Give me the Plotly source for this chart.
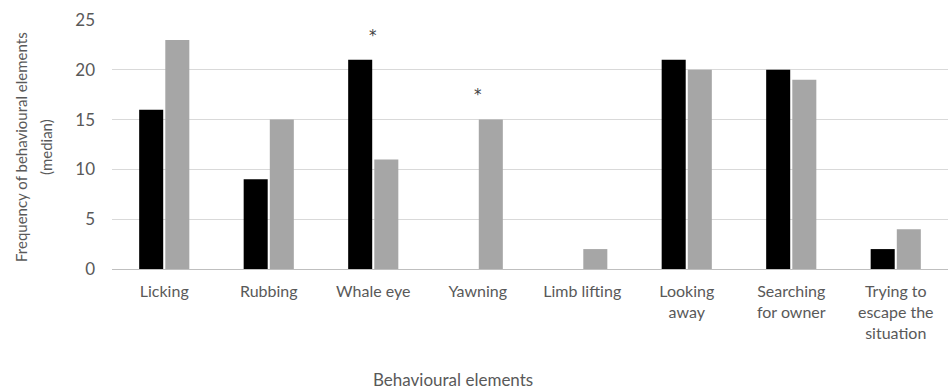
import plotly.graph_objects as go

categories = ["Licking", "Rubbing", "Whale eye", "Yawning", "Limb lifting",
              "Looking<br>away", "Searching<br>for owner", "Trying to<br>escape the<br>situation"]
series_black = [16, 9, 21, 0, 0, 21, 20, 2]
series_gray = [23, 15, 11, 15, 2, 20, 19, 4]
asterisk_cats = ["Whale eye", "Yawning"]
asterisk_vals = [23.4, 17.5]

FONT = "Lato"
TXT = "#595959"

fig = go.Figure()
fig.add_trace(go.Bar(x=categories, y=series_black, marker=dict(color="#000000", line=dict(width=0)),
                     showlegend=False, hoverinfo="skip"))
fig.add_trace(go.Bar(x=categories, y=series_gray, marker=dict(color="#a6a6a6", line=dict(width=0)),
                     showlegend=False, hoverinfo="skip"))

for c, v in zip(asterisk_cats, asterisk_vals):
    fig.add_annotation(x=c, y=v, xref="x", yref="y", text="*", showarrow=False,
                       font=dict(family="DejaVu Sans", size=15, color="#404040"))

# y-axis title (two lines)
fig.add_annotation(text="Frequency of behavioural elements", xref="paper", yref="paper",
                   x=(21 - 112) / 836, y=(269 - 147) / 249, xanchor="center", yanchor="middle",
                   textangle=-90, showarrow=False, font=dict(family=FONT, size=15, color=TXT))
fig.add_annotation(text="(median)", xref="paper", yref="paper",
                   x=(46 - 112) / 836, y=(269 - 147) / 249, xanchor="center", yanchor="middle",
                   textangle=-90, showarrow=False, font=dict(family=FONT, size=15, color=TXT))
# x-axis title
fig.add_annotation(text="Behavioural elements", xref="paper", yref="paper",
                   x=(453 - 112) / 836, y=(269 - 379) / 249, xanchor="center", yanchor="middle",
                   showarrow=False, font=dict(family=FONT, size=17, color=TXT))

fig.update_layout(
    width=948, height=392,
    margin=dict(l=112, r=0, t=20, b=123),
    paper_bgcolor="white", plot_bgcolor="white",
    barmode="group", bargap=0.5, bargroupgap=0.08,
    font=dict(family=FONT, size=16, color=TXT),
    hovermode=False,
)
fig.update_xaxes(showline=True, linecolor="#bfbfbf", linewidth=1, showgrid=False, automargin=False,
                 tickfont=dict(family=FONT, size=16, color=TXT), ticks="", ticklabelstandoff=8)
fig.update_yaxes(range=[0, 25], dtick=5, showgrid=True, gridcolor="#d9d9d9", gridwidth=1, automargin=False,
                 zeroline=False, showline=False, tickfont=dict(family=FONT, size=17, color=TXT),
                 ticklabelstandoff=16)

fig.write_html("out.html", config={"displayModeBar": False},
               post_script="document.body.style.margin='0';")
